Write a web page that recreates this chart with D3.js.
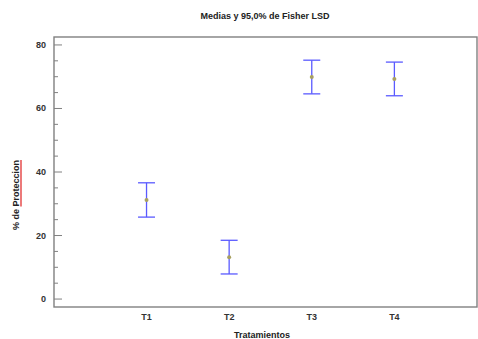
<!DOCTYPE html>
<html>
<head>
<meta charset="utf-8">
<script src="https://cdn.jsdelivr.net/npm/d3@7"></script>
<style>
  body { margin: 0; background: #fff; }
  text { font-family: Arial, "Liberation Sans", sans-serif; }
</style>
</head>
<body>
<div id="chart"></div>
<script>
const categories = ['T1', 'T2', 'T3', 'T4'];
const means = [31.2, 13.2, 69.9, 69.3];
const lower = [25.8, 7.9, 64.6, 64.0];
const upper = [36.6, 18.5, 75.2, 74.6];
const yTicks = [0, 20, 40, 60, 80];

const width = 478, height = 339;
const margin = { top: 37, right: 1, bottom: 32, left: 54 };

const svg = d3.select('#chart')
    .append('svg')
    .attr('width', width)
    .attr('height', height);

const x = d3.scaleLinear()
    .domain([-0.12, 5.0])
    .range([margin.left, width - margin.right]);
const y = d3.scaleLinear()
    .domain([-2.5, 82.5])
    .range([height - margin.bottom, margin.top]);

// plot frame
svg.append('rect')
    .attr('x', margin.left)
    .attr('y', margin.top)
    .attr('width', width - margin.right - margin.left)
    .attr('height', height - margin.bottom - margin.top)
    .attr('fill', 'none')
    .attr('stroke', '#808080')
    .attr('stroke-width', 1.4);

// y ticks point into the plot
const minor = d3.range(0, 81, 5).filter(v => yTicks.indexOf(v) < 0);
svg.append('g')
    .selectAll('line')
    .data(minor)
    .join('line')
    .attr('x1', margin.left).attr('x2', margin.left + 4)
    .attr('y1', d => y(d)).attr('y2', d => y(d))
    .attr('stroke', '#808080');
svg.append('g')
    .selectAll('line')
    .data(yTicks)
    .join('line')
    .attr('x1', margin.left).attr('x2', margin.left + 8)
    .attr('y1', d => y(d)).attr('y2', d => y(d))
    .attr('stroke', '#808080');
svg.append('g')
    .selectAll('text')
    .data(yTicks)
    .join('text')
    .attr('x', margin.left - 8)
    .attr('y', d => y(d) + 3)
    .attr('text-anchor', 'end')
    .attr('font-size', 9)
    .attr('font-weight', 'bold')
    .attr('fill', '#333')
    .text(d => d);

// x tick labels
svg.append('g')
    .selectAll('text')
    .data(categories)
    .join('text')
    .attr('x', (d, i) => x(i + 1))
    .attr('y', height - margin.bottom + 13)
    .attr('text-anchor', 'middle')
    .attr('font-size', 9)
    .attr('font-weight', 'bold')
    .attr('fill', '#333')
    .text(d => d);

// intervals
const cap = 8.5;
const g = svg.append('g')
    .selectAll('g')
    .data(categories)
    .join('g');
g.append('line')
    .attr('x1', (d, i) => x(i + 1)).attr('x2', (d, i) => x(i + 1))
    .attr('y1', (d, i) => y(lower[i])).attr('y2', (d, i) => y(upper[i]))
    .attr('stroke', '#5a5aff').attr('stroke-width', 1.3);
g.append('line')
    .attr('x1', (d, i) => x(i + 1) - cap).attr('x2', (d, i) => x(i + 1) + cap)
    .attr('y1', (d, i) => y(upper[i])).attr('y2', (d, i) => y(upper[i]))
    .attr('stroke', '#5a5aff').attr('stroke-width', 1.3);
g.append('line')
    .attr('x1', (d, i) => x(i + 1) - cap).attr('x2', (d, i) => x(i + 1) + cap)
    .attr('y1', (d, i) => y(lower[i])).attr('y2', (d, i) => y(lower[i]))
    .attr('stroke', '#5a5aff').attr('stroke-width', 1.3);
g.append('circle')
    .attr('cx', (d, i) => x(i + 1))
    .attr('cy', (d, i) => y(means[i]))
    .attr('r', 2)
    .attr('fill', '#a8a060');

// titles
svg.append('text')
    .attr('x', 265).attr('y', 19)
    .attr('text-anchor', 'middle')
    .attr('font-size', 9)
    .attr('font-weight', 'bold')
    .attr('fill', '#222')
    .text('Medias y 95,0% de Fisher LSD');

svg.append('text')
    .attr('x', 262).attr('y', 338)
    .attr('text-anchor', 'middle')
    .attr('font-size', 9)
    .attr('font-weight', 'bold')
    .attr('fill', '#222')
    .text('Tratamientos');

// y title, with the red spell-check underline under "Proteccion"
const yg = svg.append('g')
    .attr('transform', 'translate(19,195) rotate(-90)');
const yl = yg.append('text')
    .attr('text-anchor', 'middle')
    .attr('font-size', 9)
    .attr('font-weight', 'bold')
    .attr('fill', '#222')
    .text('% de Proteccion');
const node = yl.node();
const total = node.getComputedTextLength();
const start = node.getSubStringLength(0, 5);
yg.append('line')
    .attr('x1', -total / 2 + start).attr('x2', total / 2)
    .attr('y1', 2).attr('y2', 2)
    .attr('stroke', '#e02020')
    .attr('stroke-width', 1.2);
</script>
</body>
</html>
